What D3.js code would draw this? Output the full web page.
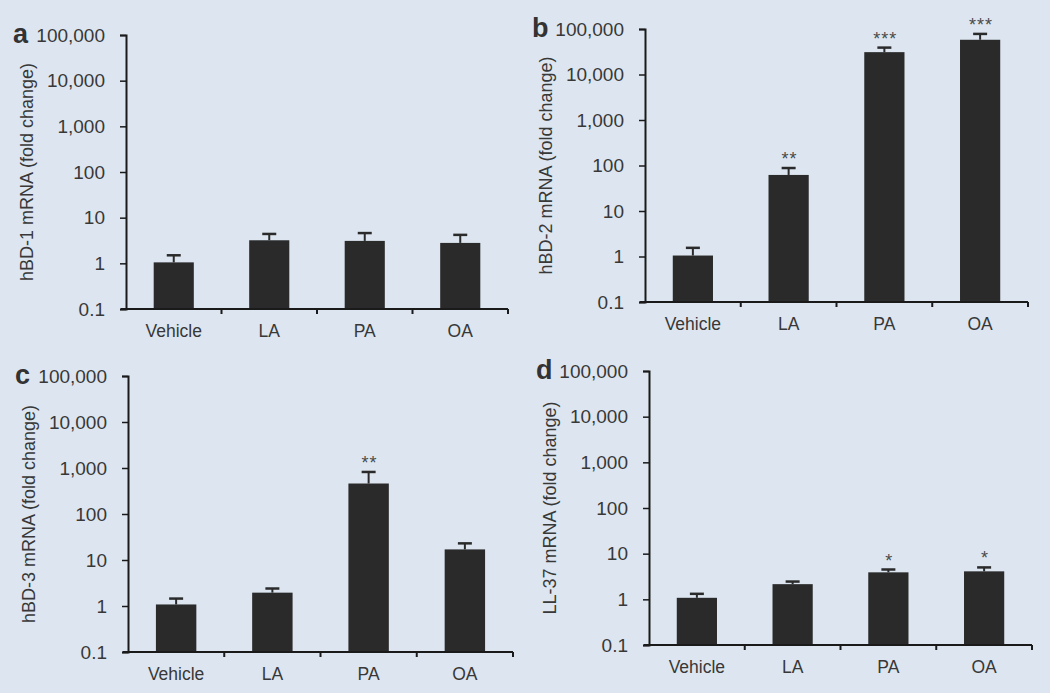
<!DOCTYPE html>
<html>
<head>
<meta charset="utf-8">
<script src="https://cdn.jsdelivr.net/npm/d3@7"></script>
<style>
  body { margin: 0; background: #dde6f0; }
  svg { display: block; }
</style>
</head>
<body>
<div id="chart"></div>
<script>
const categories = ["Vehicle", "LA", "PA", "OA"];
const yTicks = [0.1, 1, 10, 100, 1000, 10000, 100000];
const yTickLabels = ["0.1", "1", "10", "100", "1,000", "10,000", "100,000"];

const panelLetters = ["a", "b", "c", "d"];
const panelTitles = ["hBD-1 mRNA (fold change)", "hBD-2 mRNA (fold change)", "hBD-3 mRNA (fold change)", "LL-37 mRNA (fold change)"];

// mean fold change and upper error (mean + SEM), per panel
const hbd1Means = [1.05, 3.2, 3.1, 2.8];
const hbd1Upper = [1.5, 4.4, 4.6, 4.2];
const hbd2Means = [1.05, 62, 31000, 58000];
const hbd2Upper = [1.55, 88, 39000, 78000];
const hbd3Means = [1.08, 1.95, 460, 17];
const hbd3Upper = [1.45, 2.4, 820, 23];
const ll37Means = [1.08, 2.15, 3.9, 4.1];
const ll37Upper = [1.32, 2.45, 4.5, 5.0];

const hbd1Stars = ["", "", "", ""];
const hbd2Stars = ["", "**", "***", "***"];
const hbd3Stars = ["", "", "**", ""];
const ll37Stars = ["", "", "*", "*"];

const means = [hbd1Means, hbd2Means, hbd3Means, ll37Means];
const uppers = [hbd1Upper, hbd2Upper, hbd3Upper, ll37Upper];
const stars = [hbd1Stars, hbd2Stars, hbd3Stars, ll37Stars];

// plot frames: left (y-axis x), top (100,000), bottom (0.1), right end of x axis
const frames = [
    {left: 126, top: 35, bottom: 309, right: 508},
    {left: 645, top: 29, bottom: 302, right: 1028},
    {left: 128, top: 376, bottom: 652, right: 513},
    {left: 649, top: 371, bottom: 645, right: 1032},
];

const font = "Arial, 'Liberation Sans', Helvetica, sans-serif";
const textColor = "#383838";
const barColor = "#2a2a2a";

const svg = d3.select("#chart").append("svg")
    .attr("width", 1050)
    .attr("height", 693);

frames.forEach((f, p) => {
    const g = svg.append("g");

    const y = d3.scaleLog().domain([0.1, 100000]).range([f.bottom, f.top]);
    const x = d3.scaleBand()
        .domain(categories)
        .range([f.left, f.right])
        .paddingInner(0.58)
        .paddingOuter(0.29);

    const data = categories.map((c, i) => ({cat: c, value: means[p][i], upper: uppers[p][i], star: stars[p][i]}));

    // bars
    g.selectAll(".bar")
        .data(data)
        .join("rect")
        .attr("class", "bar")
        .attr("x", (d) => x(d.cat))
        .attr("y", (d) => y(d.value))
        .attr("width", x.bandwidth())
        .attr("height", (d) => f.bottom - y(d.value))
        .attr("fill", barColor);

    // error bars (upper only)
    g.selectAll(".err")
        .data(data)
        .join("line")
        .attr("class", "err")
        .attr("x1", (d) => x(d.cat) + x.bandwidth() / 2)
        .attr("x2", (d) => x(d.cat) + x.bandwidth() / 2)
        .attr("y1", (d) => y(d.value))
        .attr("y2", (d) => y(d.upper))
        .attr("stroke", barColor)
        .attr("stroke-width", 2);

    g.selectAll(".cap")
        .data(data)
        .join("line")
        .attr("class", "cap")
        .attr("x1", (d) => x(d.cat) + x.bandwidth() / 2 - 7)
        .attr("x2", (d) => x(d.cat) + x.bandwidth() / 2 + 7)
        .attr("y1", (d) => y(d.upper))
        .attr("y2", (d) => y(d.upper))
        .attr("stroke", barColor)
        .attr("stroke-width", 2.5);

    // significance stars
    g.selectAll(".star")
        .data(data.filter((d) => d.star))
        .join("text")
        .attr("class", "star")
        .attr("x", (d) => x(d.cat) + x.bandwidth() / 2 + 1)
        .attr("y", (d) => y(d.upper) - 3)
        .attr("text-anchor", "middle")
        .style("font-family", font)
        .style("font-size", "18px")
        .style("letter-spacing", "1px")
        .attr("fill", "#4a4a4a")
        .text((d) => d.star);

    // y axis
    const yAxis = g.append("g")
        .attr("transform", `translate(${f.left}, 0)`)
        .call(d3.axisLeft(y)
            .tickValues(yTicks)
            .tickFormat((d, i) => yTickLabels[i])
            .tickSize(6)
            .tickSizeOuter(6)
            .tickPadding(15));
    yAxis.select(".domain").attr("stroke", "#1a1a1a").attr("stroke-width", 2);
    yAxis.selectAll(".tick line").attr("stroke", "#1a1a1a").attr("stroke-width", 1.5);
    yAxis.selectAll("text")
        .style("font-family", font)
        .style("font-size", "19px")
        .attr("fill", textColor);

    // x axis
    g.append("line")
        .attr("x1", f.left - 5)
        .attr("x2", f.right)
        .attr("y1", f.bottom)
        .attr("y2", f.bottom)
        .attr("stroke", "#1a1a1a")
        .attr("stroke-width", 2);

    g.selectAll(".xtick")
        .data(categories)
        .join("line")
        .attr("class", "xtick")
        .attr("x1", (d, i) => f.left + x.step() * (i + 1))
        .attr("x2", (d, i) => f.left + x.step() * (i + 1))
        .attr("y1", f.bottom)
        .attr("y2", f.bottom + 5)
        .attr("stroke", "#1a1a1a")
        .attr("stroke-width", 2);

    g.selectAll(".xlabel")
        .data(categories)
        .join("text")
        .attr("class", "xlabel")
        .attr("x", (d) => x(d) + x.bandwidth() / 2)
        .attr("y", f.bottom + 28)
        .attr("text-anchor", "middle")
        .style("font-family", font)
        .style("font-size", "17.5px")
        .attr("fill", textColor)
        .text((d) => d);

    // y axis title
    g.append("text")
        .attr("transform", `translate(${f.left - 99}, ${(f.top + f.bottom) / 2}) rotate(-90)`)
        .attr("text-anchor", "middle")
        .attr("dy", "0.35em")
        .style("font-family", font)
        .style("font-size", "18px")
        .attr("fill", textColor)
        .text(panelTitles[p]);

    // panel letter
    g.append("text")
        .attr("x", f.left - 113)
        .attr("y", f.top + 8)
        .style("font-family", font)
        .style("font-size", "27px")
        .style("font-weight", "bold")
        .attr("fill", "#333")
        .text(panelLetters[p]);
});
</script>
</body>
</html>
